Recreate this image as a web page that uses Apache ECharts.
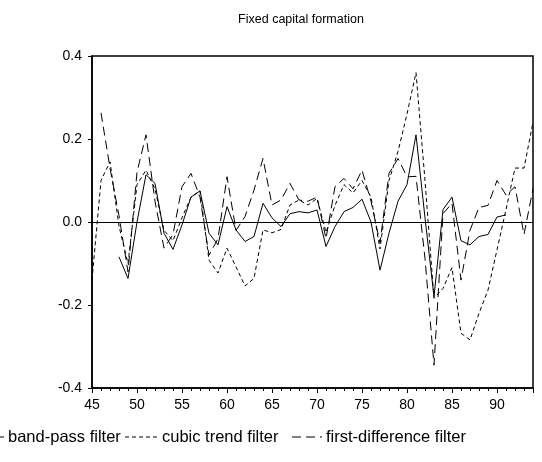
<!DOCTYPE html>
<html><head><meta charset="utf-8">
<script src="https://cdn.jsdelivr.net/npm/echarts@6/dist/echarts.min.js"></script>
<style>html,body{margin:0;padding:0;background:#fff}#c{width:542px;height:462px}</style>
</head><body><div id="c"></div>
<script>
// years 1945..1994 shown as two-digit labels
const years = [45,46,47,48,49,50,51,52,53,54,55,56,57,58,59,60,61,62,63,64,65,66,67,68,69,70,71,72,73,74,75,76,77,78,79,80,81,82,83,84,85,86,87,88,89,90,91,92,93,94];
const bandPass = [null,null,null,-0.084,-0.136,0.0,0.114,0.093,-0.027,-0.066,-0.007,0.06,0.075,-0.027,-0.055,0.037,-0.019,-0.047,-0.035,0.045,0.01,-0.011,0.02,0.025,0.022,0.029,-0.059,-0.011,0.025,0.035,0.055,0.0,-0.116,-0.027,0.05,0.09,0.21,0.01,-0.18,0.03,0.06,-0.045,-0.055,-0.035,-0.03,0.012,0.017,null,null,null];
const cubicTrend = [-0.14,0.10,0.145,-0.01,-0.10,0.09,0.125,0.08,-0.02,-0.045,0.01,0.06,0.075,-0.092,-0.123,-0.063,-0.108,-0.154,-0.136,-0.019,-0.026,-0.018,0.041,0.053,0.041,0.057,-0.025,0.04,0.09,0.07,0.10,0.06,-0.065,0.10,0.17,0.26,0.36,0.10,-0.184,-0.16,-0.11,-0.268,-0.284,-0.22,-0.164,-0.067,0.03,0.13,0.13,0.24];
const firstDiff = [null,0.263,0.13,0.015,-0.12,0.12,0.21,0.05,-0.063,-0.03,0.085,0.117,0.06,-0.08,-0.04,0.109,-0.02,0.013,0.077,0.153,0.041,0.053,0.093,0.053,0.05,0.06,-0.04,0.085,0.105,0.08,0.125,0.05,-0.05,0.117,0.153,0.109,0.11,-0.088,-0.345,0.02,0.045,-0.14,-0.02,0.035,0.04,0.10,0.065,0.085,-0.03,0.08];
const seriesNames = ['band-pass filter','cubic trend filter','first-difference filter'];
const titleText = 'Fixed capital formation';

function pairs(vals){ const out=[]; vals.forEach((v,i)=>{ if(v!==null) out.push([years[i],v]); }); return out; }

const FONT = 'Liberation Sans, Arial, sans-serif';
const chart = echarts.init(document.getElementById('c'), null, {renderer:'canvas'});
const grid = {left:92, right:9, top:56, bottom:74};
const lineBase = {type:'line', showSymbol:false, symbol:'none', silent:true, animation:false};
const dashes = [[], [4,3], [9,5]];

const legendY = 437;
const legendItems = [
  {x1:-14, x2:4, tx:8},
  {x1:125, x2:158, tx:162},
  {x1:292, x2:322, tx:326}
];
const graphic = [
  {type:'text', x:301, y:20, style:{text:titleText, fill:'#000', font:'12.5px '+FONT, textAlign:'center', textVerticalAlign:'middle'}}
];
legendItems.forEach((it,i)=>{
  graphic.push({type:'line', shape:{x1:it.x1,y1:legendY,x2:it.x2,y2:legendY}, style:{stroke:'#000', lineWidth:1, lineDash: dashes[i].length?dashes[i]:null}});
  graphic.push({type:'text', x:it.tx, y:legendY, style:{text:seriesNames[i], fill:'#000', font:'16.5px '+FONT, textVerticalAlign:'middle'}});
});

chart.setOption({
  animation:false,
  backgroundColor:'#fff',
  grid:Object.assign({show:true, borderColor:'#000', borderWidth:1.5, backgroundColor:'transparent'}, grid),
  xAxis:{type:'value', min:45, max:94, interval:5,
    axisLine:{show:true, onZero:false, lineStyle:{color:'#000', width:1.5}},
    axisTick:{show:true, length:5, inside:false, lineStyle:{color:'#000'}},
    minorTick:{show:true, splitNumber:5, length:3, lineStyle:{color:'#000'}},
    axisLabel:{color:'#000', fontSize:14, fontFamily:FONT, margin:10, showMaxLabel:false},
    splitLine:{show:false}},
  yAxis:{type:'value', min:-0.4, max:0.4, interval:0.2,
    axisLine:{show:true, lineStyle:{color:'#000', width:1.5}},
    axisTick:{show:true, length:4, lineStyle:{color:'#000'}},
    axisLabel:{color:'#000', fontSize:14, fontFamily:FONT, margin:10, formatter:v=>v.toFixed(1)},
    splitLine:{show:false}},
  graphic: graphic,
  series:[
    Object.assign({}, lineBase, {name:seriesNames[0], data:pairs(bandPass), lineStyle:{color:'#000', width:1, type:'solid'},
      markLine:{silent:true, symbol:'none', label:{show:false}, lineStyle:{color:'#000', width:1, type:'solid'}, data:[{yAxis:0}], animation:false}}),
    Object.assign({}, lineBase, {name:seriesNames[1], data:pairs(cubicTrend), lineStyle:{color:'#000', width:1, type:dashes[1]}}),
    Object.assign({}, lineBase, {name:seriesNames[2], data:pairs(firstDiff), lineStyle:{color:'#000', width:1, type:dashes[2]}})
  ]
});
</script></body></html>
